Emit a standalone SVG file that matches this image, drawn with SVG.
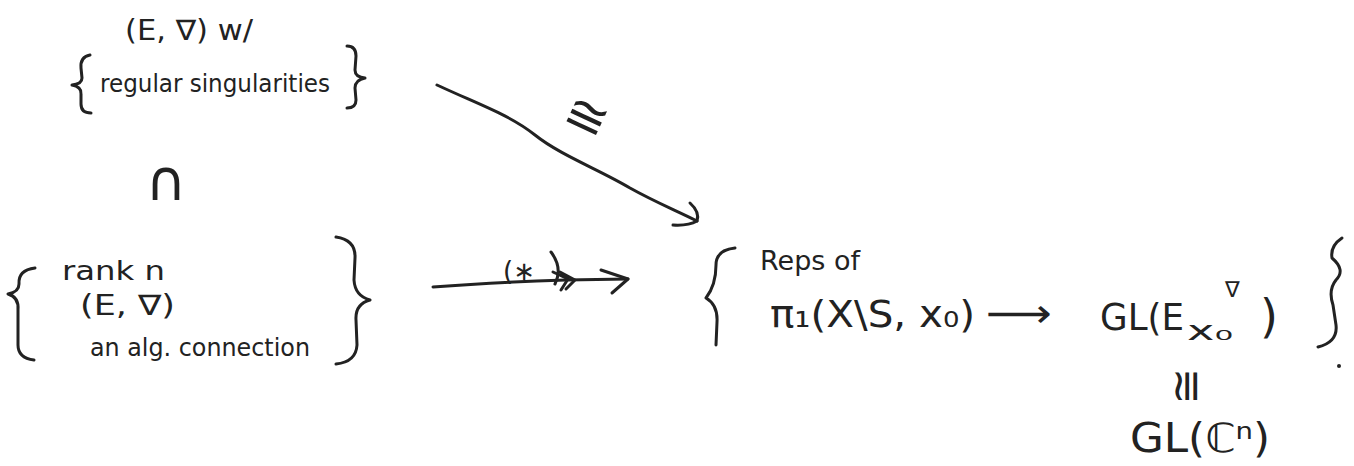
<svg xmlns="http://www.w3.org/2000/svg" width="1354" height="466" viewBox="0 0 1354 466">
<style>
.t{font-family:"DejaVu Sans","Liberation Sans",sans-serif;fill:#222}
.s{fill:none;stroke:#222;stroke-width:3;stroke-linecap:round;stroke-linejoin:round}
</style>
<rect width="1354" height="466" fill="#fff"/>
<g id="node-regular">
<text class="t" x="125" y="40" font-size="28" textLength="128" lengthAdjust="spacingAndGlyphs">(E, ∇) w/</text>
<path class="s" d="M90,55 Q80,57 81,68 L82,78 Q82,84 72,85 Q82,87 81,94 L81,104 Q81,113 91,113"/>
<text class="t" x="100" y="92" font-size="24" textLength="230" lengthAdjust="spacingAndGlyphs">regular singularities</text>
<path class="s" d="M347,46 Q356,46 356,56 L355,70 Q355,77 365,78 Q355,80 355,88 L356,100 Q356,108 347,108"/>
</g>
<g id="inclusion">
<text class="t" x="166" y="200" font-size="56" text-anchor="middle">∩</text>
</g>
<g id="node-connections">
<path class="s" d="M35,268 Q18,270 19,284 Q19,292 8,294 Q19,297 18,310 L18,345 Q18,358 34,360"/>
<text class="t" x="62" y="280" font-size="26" textLength="103" lengthAdjust="spacingAndGlyphs">rank n</text>
<text class="t" x="80" y="315" font-size="28" textLength="95" lengthAdjust="spacingAndGlyphs">(E, ∇)</text>
<text class="t" x="90" y="356" font-size="24" textLength="220" lengthAdjust="spacingAndGlyphs">an alg. connection</text>
<path class="s" d="M336,237 Q356,240 355,258 L354,280 Q355,296 370,300 Q355,304 356,320 L357,345 Q356,362 336,364"/>
</g>
<g id="node-reps">
<path class="s" d="M735,248 Q716,250 716,265 Q716,285 706,298 Q718,305 717,322 L716,345"/>
<text class="t" x="760" y="270" font-size="26" textLength="100" lengthAdjust="spacingAndGlyphs">Reps of</text>
<text class="t" x="770" y="327" font-size="38" textLength="205" lengthAdjust="spacingAndGlyphs">π₁(X\S, x₀)</text>
<text class="t" x="986" y="327" font-size="40" textLength="66" lengthAdjust="spacingAndGlyphs">⟶</text>
<text class="t" x="1100" y="330" font-size="38" textLength="84" lengthAdjust="spacingAndGlyphs">GL(E</text>
<text class="t" x="1187" y="340" font-size="26" textLength="46" lengthAdjust="spacingAndGlyphs">x₀</text>
<text class="t" x="1225" y="297" font-size="22">∇</text>
<text class="t" x="1260" y="332" font-size="46">)</text>
<path class="s" d="M1342,238 Q1330,246 1332,258 Q1346,270 1336,280 Q1328,290 1333,305 L1336,325 Q1338,342 1318,347"/>
<circle cx="1339" cy="366" r="2" fill="#222"/>
<text class="t" x="0" y="0" font-size="44" text-anchor="middle" transform="translate(1187,386) rotate(-90)" dy="14">≅</text>
<text class="t" x="1130" y="452" font-size="40" textLength="140" lengthAdjust="spacingAndGlyphs">GL(ℂⁿ)</text>
</g>
<g id="connectors">
<path class="s" d="M437,85 C480,105 510,115 535,135 C560,155 600,170 630,188 C655,202 675,210 697,221"/>
<path class="s" d="M690,203 Q700,212 697,221 Q688,226 673,225"/>
<text class="t" x="0" y="0" font-size="52" text-anchor="middle" transform="translate(586,118) rotate(25)" dy="16">≅</text>
<path class="s" d="M433,287 Q520,280 628,279"/>
<path class="s" d="M553,272 L568,279 L561,290 M560,272 L575,280 L566,289"/>
<path class="s" d="M601,270 L628,279 L612,293"/>
<text class="t" x="503" y="280" font-size="26">(∗</text>
<path class="s" d="M551,252 Q563,268 555,284"/>
</g>
</svg>
